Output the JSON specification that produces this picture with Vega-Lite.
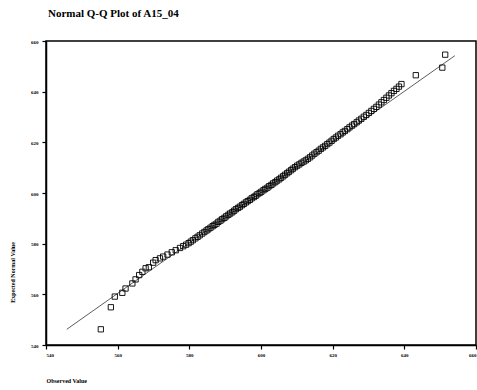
{
  "$schema": "https://vega.github.io/schema/vega-lite/v6.json",
  "width": 430,
  "height": 304,
  "autosize": {"type": "none"},
  "padding": {"left": 46, "top": 41, "right": 1, "bottom": 45},
  "background": "white",
  "config": {
    "view": {"stroke": "black", "strokeWidth": 1.5},
    "font": "Liberation Serif",
    "axis": {
      "grid": false,
      "domainColor": "black",
      "domainWidth": 1.5,
      "tickColor": "black",
      "tickSize": 4,
      "tickWidth": 1.2,
      "labelFont": "Liberation Serif",
      "labelFontWeight": "bold",
      "labelFontSize": 5,
      "labelColor": "black",
      "titleFont": "Liberation Serif",
      "titleFontWeight": "bold",
      "titleFontSize": 6,
      "titleColor": "black"
    }
  },
  "title": {
    "text": "Normal Q-Q Plot of A15_04",
    "anchor": "start",
    "frame": "group",
    "dx": 2,
    "offset": 20,
    "font": "Liberation Serif",
    "fontSize": 11,
    "fontWeight": "bold",
    "color": "black"
  },
  "datasets": {
    "pts": [
      {"observed": 555.3, "expected": 546.2},
      {"observed": 558.1, "expected": 554.9},
      {"observed": 559.2, "expected": 559.1},
      {"observed": 561.3, "expected": 560.6},
      {"observed": 562.2, "expected": 562.3},
      {"observed": 564.1, "expected": 564.3},
      {"observed": 565.0, "expected": 565.9},
      {"observed": 566.0, "expected": 567.6},
      {"observed": 566.9, "expected": 568.9},
      {"observed": 567.8, "expected": 570.3},
      {"observed": 568.7, "expected": 570.7},
      {"observed": 569.9, "expected": 572.5},
      {"observed": 570.6, "expected": 573.5},
      {"observed": 571.8, "expected": 574.2},
      {"observed": 572.7, "expected": 574.9},
      {"observed": 573.9, "expected": 575.7},
      {"observed": 575.1, "expected": 576.6},
      {"observed": 576.2, "expected": 577.4},
      {"observed": 577.4, "expected": 578.3},
      {"observed": 578.3, "expected": 579.0},
      {"observed": 579.1, "expected": 579.6},
      {"observed": 579.8, "expected": 580.2},
      {"observed": 580.4, "expected": 580.8},
      {"observed": 581.0, "expected": 581.4},
      {"observed": 581.7, "expected": 582.1},
      {"observed": 582.3, "expected": 582.7},
      {"observed": 582.9, "expected": 583.3},
      {"observed": 583.6, "expected": 584.0},
      {"observed": 584.2, "expected": 584.6},
      {"observed": 584.8, "expected": 585.2},
      {"observed": 585.3, "expected": 585.7},
      {"observed": 585.9, "expected": 586.3},
      {"observed": 586.5, "expected": 586.9},
      {"observed": 587.0, "expected": 587.4},
      {"observed": 587.6, "expected": 587.9},
      {"observed": 588.1, "expected": 588.6},
      {"observed": 588.7, "expected": 589.1},
      {"observed": 589.2, "expected": 589.7},
      {"observed": 589.8, "expected": 590.2},
      {"observed": 590.3, "expected": 590.8},
      {"observed": 590.9, "expected": 591.4},
      {"observed": 591.4, "expected": 591.9},
      {"observed": 592.0, "expected": 592.4},
      {"observed": 592.5, "expected": 593.0},
      {"observed": 593.0, "expected": 593.6},
      {"observed": 593.6, "expected": 594.1},
      {"observed": 594.1, "expected": 594.6},
      {"observed": 594.7, "expected": 595.2},
      {"observed": 595.2, "expected": 595.7},
      {"observed": 595.8, "expected": 596.3},
      {"observed": 596.3, "expected": 596.8},
      {"observed": 596.9, "expected": 597.3},
      {"observed": 597.4, "expected": 597.9},
      {"observed": 598.0, "expected": 598.4},
      {"observed": 598.5, "expected": 598.9},
      {"observed": 599.0, "expected": 599.5},
      {"observed": 599.6, "expected": 600.0},
      {"observed": 600.1, "expected": 600.5},
      {"observed": 600.7, "expected": 601.1},
      {"observed": 601.2, "expected": 601.6},
      {"observed": 601.8, "expected": 602.1},
      {"observed": 602.3, "expected": 602.7},
      {"observed": 602.9, "expected": 603.2},
      {"observed": 603.4, "expected": 603.8},
      {"observed": 604.0, "expected": 604.3},
      {"observed": 604.5, "expected": 604.9},
      {"observed": 605.1, "expected": 605.4},
      {"observed": 605.6, "expected": 606.0},
      {"observed": 606.2, "expected": 606.6},
      {"observed": 606.7, "expected": 607.2},
      {"observed": 607.3, "expected": 607.8},
      {"observed": 607.8, "expected": 608.4},
      {"observed": 608.4, "expected": 609.0},
      {"observed": 608.9, "expected": 609.6},
      {"observed": 609.5, "expected": 610.2},
      {"observed": 610.1, "expected": 610.8},
      {"observed": 610.7, "expected": 611.3},
      {"observed": 611.3, "expected": 611.9},
      {"observed": 611.9, "expected": 612.4},
      {"observed": 612.5, "expected": 612.9},
      {"observed": 613.1, "expected": 613.5},
      {"observed": 613.7, "expected": 614.1},
      {"observed": 614.3, "expected": 614.8},
      {"observed": 614.9, "expected": 615.5},
      {"observed": 615.5, "expected": 616.1},
      {"observed": 616.1, "expected": 616.7},
      {"observed": 616.7, "expected": 617.4},
      {"observed": 617.3, "expected": 618.0},
      {"observed": 617.9, "expected": 618.6},
      {"observed": 618.5, "expected": 619.3},
      {"observed": 619.1, "expected": 619.9},
      {"observed": 619.7, "expected": 620.6},
      {"observed": 620.3, "expected": 621.3},
      {"observed": 620.9, "expected": 621.9},
      {"observed": 621.5, "expected": 622.6},
      {"observed": 622.2, "expected": 623.2},
      {"observed": 622.8, "expected": 623.9},
      {"observed": 623.4, "expected": 624.5},
      {"observed": 624.1, "expected": 625.2},
      {"observed": 624.7, "expected": 625.9},
      {"observed": 625.4, "expected": 626.6},
      {"observed": 626.0, "expected": 627.2},
      {"observed": 626.7, "expected": 627.9},
      {"observed": 627.3, "expected": 628.6},
      {"observed": 628.0, "expected": 629.3},
      {"observed": 628.7, "expected": 630.1},
      {"observed": 629.4, "expected": 630.8},
      {"observed": 630.1, "expected": 631.6},
      {"observed": 630.8, "expected": 632.4},
      {"observed": 631.5, "expected": 633.2},
      {"observed": 632.2, "expected": 634.0},
      {"observed": 632.9, "expected": 634.9},
      {"observed": 633.6, "expected": 635.8},
      {"observed": 634.3, "expected": 636.7},
      {"observed": 635.0, "expected": 637.6},
      {"observed": 635.7, "expected": 638.5},
      {"observed": 636.4, "expected": 639.4},
      {"observed": 637.1, "expected": 640.3},
      {"observed": 637.8, "expected": 641.1},
      {"observed": 638.5, "expected": 642.0},
      {"observed": 639.2, "expected": 643.0},
      {"observed": 643.2, "expected": 646.5},
      {"observed": 650.6, "expected": 649.5},
      {"observed": 651.4, "expected": 654.6}
    ],
    "ref": [
      {"observed": 545.8, "expected": 546.2},
      {"observed": 654.1, "expected": 654.2}
    ]
  },
  "layer": [
    {
      "data": {"name": "ref"},
      "mark": {"type": "line", "color": "#333333", "strokeWidth": 0.8},
      "encoding": {
        "x": {"field": "observed", "type": "quantitative", "scale": {"domain": [540, 660], "nice": false, "zero": false},
              "axis": {"title": "Observed Value", "values": [540, 560, 580, 600, 620, 640, 660], "titleAnchor": "start", "titleAlign": "left", "titleX": 0, "titleY": 35, "titleBaseline": "middle", "labelPadding": 3}},
        "y": {"field": "expected", "type": "quantitative", "scale": {"domain": [540, 660], "nice": false, "zero": false},
              "axis": {"title": "Expected Normal Value", "values": [540, 560, 580, 600, 620, 640, 660], "titleAngle": -90, "titleX": -34, "titleY": 231, "titleAlign": "center", "titleBaseline": "middle", "labelPadding": 4}}
      }
    },
    {
      "data": {"name": "pts"},
      "mark": {"type": "point", "shape": "square", "filled": false, "color": "black", "size": 28, "strokeWidth": 0.9, "opacity": 1},
      "encoding": {
        "x": {"field": "observed", "type": "quantitative"},
        "y": {"field": "expected", "type": "quantitative"}
      }
    }
  ]
}
